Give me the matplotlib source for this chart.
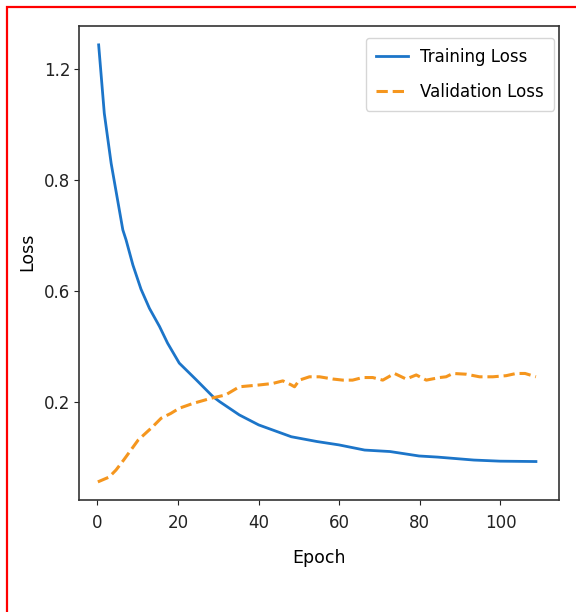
import matplotlib.pyplot as plt
from matplotlib.patches import Rectangle

# training loss
trainEpochs = [0.3, 1.7, 3.4, 6.3, 7.1, 8.8, 10.8, 12.9, 15.4, 17.4, 20.3, 24.5,
               28.6, 30.3, 35.2, 40, 48.1, 54.5, 59.9, 66.3, 72.6, 79.8, 84.4,
               93.4, 99.9, 108.8]
trainLoss = [1.265, 1.080, 0.945, 0.765, 0.738, 0.670, 0.605, 0.553, 0.504, 0.459,
             0.405, 0.360, 0.315, 0.301, 0.265, 0.238, 0.206, 0.193, 0.184, 0.170,
             0.166, 0.154, 0.151, 0.143, 0.140, 0.139]

# validation loss
valEpochs = [0.1, 2.9, 4.6, 6.5, 10.1, 13.7, 15.8, 18.2, 20.3, 23.7, 28.2, 31.8,
             35.2, 40.2, 43.5, 46, 48.1, 48.9, 50.1, 52.6, 55.1, 58.4, 60.9, 63.3,
             65.8, 68.3, 70.8, 73.7, 76.6, 79.1, 81.6, 84.9, 86.5, 88.2, 91.5, 94.8,
             98.1, 101.4, 103.9, 106.1, 108.8]
valLoss = [0.084, 0.097, 0.116, 0.143, 0.197, 0.233, 0.256, 0.269, 0.283, 0.296,
           0.310, 0.319, 0.341, 0.346, 0.350, 0.357, 0.346, 0.341, 0.359, 0.368,
           0.368, 0.362, 0.359, 0.359, 0.366, 0.366, 0.359, 0.377, 0.362, 0.373,
           0.359, 0.366, 0.368, 0.377, 0.375, 0.368, 0.368, 0.371, 0.377, 0.377,
           0.368]

yTickPos = [1.2, 0.9, 0.6, 0.3]
yTickLabels = ['1.2', '0.8', '0.6', '0.2']
xTicks = [0, 20, 40, 60, 80, 100]

W, H = 576, 612
fig = plt.figure(figsize=(W / 100, H / 100), dpi=100)
ax = fig.add_axes([78.5 / W, 1 - 499.5 / H, 480 / W, 473.5 / H])

ax.plot(trainEpochs, trainLoss, '-', color='#1c75c9', lw=2, label='Training Loss')
ax.plot(valEpochs, valLoss, '--', color='#f5961e', lw=2.2, label='Validation Loss')

ax.set_xlim(-4.7, 114.4)
ax.set_ylim(0.0364, 1.316)
ax.set_xticks(xTicks)
ax.set_yticks(yTickPos)
ax.set_yticklabels(yTickLabels)
ax.tick_params(labelsize=12, colors='#222222')
ax.tick_params(axis='x', pad=7)
ax.tick_params(axis='y', pad=2.5)
ax.set_xlabel('Epoch', fontsize=12.5, labelpad=12)
ax.set_ylabel('Loss', fontsize=12.5)
ax.yaxis.set_label_coords(-0.0875, 0.523)
for s in ax.spines.values():
    s.set_color('#333333')
    s.set_linewidth(1.2)

ax.legend(fontsize=12, loc='upper right', labelspacing=1.0, borderpad=0.6,
          handlelength=1.9, handletextpad=0.75, borderaxespad=0,
          bbox_to_anchor=((554 - 78.5) / 480, (499.5 - 38) / 473.5))

# red frame round the picture
fig.patches.append(Rectangle((6.7 / W, -0.05), 1.2, 1 - 7 / H + 0.05,
                             transform=fig.transFigure, fill=False,
                             edgecolor='red', lw=1.6))

fig.savefig('out.png', dpi=100)
